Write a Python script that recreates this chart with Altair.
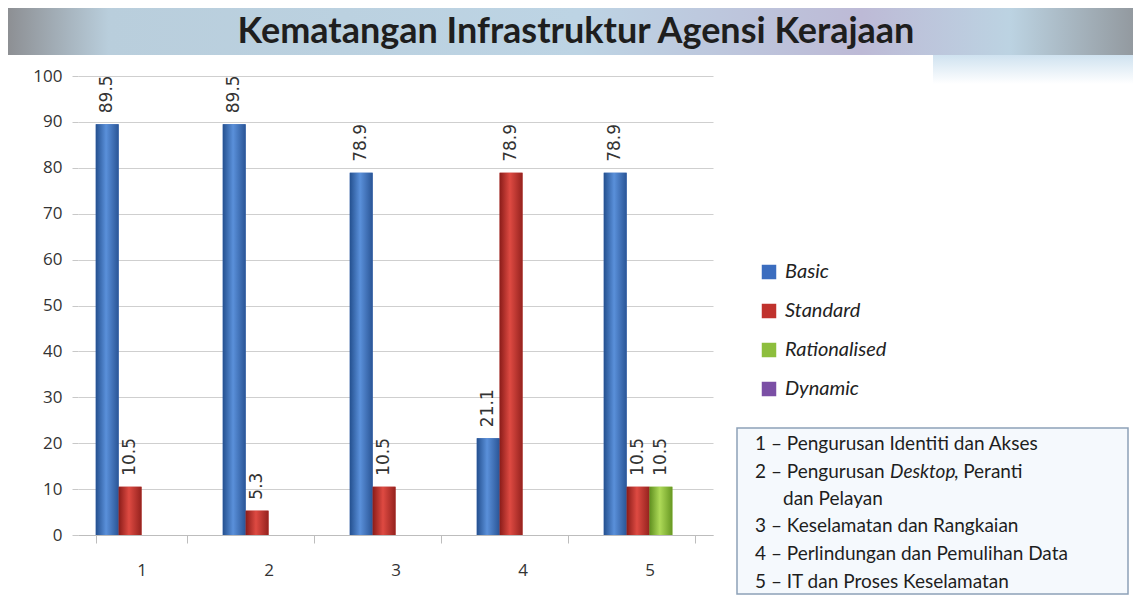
import altair as alt
import pandas as pd

# ---------------- data ----------------
categories = ["1", "2", "3", "4", "5"]
series = ["Basic", "Standard", "Rationalised", "Dynamic"]
basic = [89.5, 89.5, 78.9, 21.1, 78.9]
standard = [10.5, 5.3, 10.5, 78.9, 10.5]
rationalised = [0, 0, 0, 0, 10.5]
dynamic = [0, 0, 0, 0, 0]
colors = ["#3B6DBF", "#C0322D", "#8DBE3D", "#7B4FA5"]

title_text = "Kematangan Infrastruktur Agensi Kerajaan"
box_lines = [
    "1 \u2013 Pengurusan Identiti dan Akses",
    "2 \u2013 Pengurusan ",
    "dan Pelayan",
    "3 \u2013 Keselamatan dan Rangkaian",
    "4 \u2013 Perlindungan dan Pemulihan Data",
    "5 \u2013 IT dan Proses Keselamatan",
]
italic_word = "Desktop"
after_italic = ", Peranti"

rows = []
for s, vals in zip(series, [basic, standard, rationalised, dynamic]):
    for c, v in zip(categories, vals):
        rows.append({"cat": c, "series": s, "value": v})
df = pd.DataFrame(rows)

W, H = 635, 459
FONT = "Lato"

x_enc = alt.X("cat:N", sort=categories,
              scale=alt.Scale(domain=categories, paddingInner=0.28, paddingOuter=0.14),
              axis=alt.Axis(title=None, labelAngle=0, labelFont="Open Sans", labelFontSize=17,
                            labelColor="#333333", labelPadding=19, tickSize=8,
                            tickColor="#BDBDBD", domainColor="#BDBDBD", tickBand="extent",
                            grid=False))
xo_enc = alt.XOffset("series:N", sort=series,
                     scale=alt.Scale(domain=series, paddingInner=0, paddingOuter=0))
y_enc = alt.Y("value:Q", scale=alt.Scale(domain=[0, 100], nice=False),
              axis=alt.Axis(title=None, values=list(range(0, 101, 10)), labelFont="Open Sans",
                            labelFontSize=17, labelColor="#333333", labelPadding=10,
                            tickSize=6, tickColor="#C8C8C8", domain=False,
                            gridColor="#CFCFCF", gridWidth=1))

base = alt.Chart(df)

bars = base.mark_bar().encode(
    x=x_enc, xOffset=xo_enc, y=y_enc,
    color=alt.Color("series:N", sort=series,
                    scale=alt.Scale(domain=series, range=colors),
                    legend=alt.Legend(title=None, orient="none", legendX=681, legendY=186,
                                      symbolType="square", symbolSize=210,
                                      labelFont=FONT, labelFontSize=20, labelFontStyle="italic",
                                      labelColor="#222222", rowPadding=19, labelOffset=6,
                                      symbolStrokeWidth=0)),
)

grads = {
    "Basic": ["#24508F", "#5A90DA", "#2A5596"],
    "Standard": ["#8A1C19", "#DE4A42", "#95221E"],
    "Rationalised": ["#5F8F1F", "#AEDA58", "#679822"],
    "Dynamic": ["#52307A", "#9A70C4", "#56327E"],
}
grad_layers = []
for s in series:
    c0, c1, c2 = grads[s]
    g = alt.Gradient(gradient="linear", x1=0, x2=1, y1=0, y2=0,
                     stops=[alt.GradientStop(color=c0, offset=0),
                            alt.GradientStop(color=c1, offset=0.45),
                            alt.GradientStop(color=c2, offset=1)])
    grad_layers.append(
        base.transform_filter(alt.datum.series == s).mark_bar(fill=g).encode(
            x=alt.X("cat:N", sort=categories), xOffset=alt.XOffset("series:N", sort=series),
            y="value:Q")
    )

labels = base.transform_filter(alt.datum.value > 0).mark_text(
    angle=270, align="left", baseline="middle", dx=11,
    font="DejaVu Sans", fontSize=17, color="#333333"
).encode(x=alt.X("cat:N", sort=categories), xOffset=alt.XOffset("series:N", sort=series),
         y="value:Q", text=alt.Text("value:Q", format=".1f"))

one = pd.DataFrame({"k": [0]})

banner_grad = alt.Gradient(gradient="linear", x1=0, x2=1, y1=0, y2=0, stops=[
    alt.GradientStop(color="#8C8E92", offset=0),
    alt.GradientStop(color="#B9CEDC", offset=0.09),
    alt.GradientStop(color="#BDD4E4", offset=0.5),
    alt.GradientStop(color="#BDBAD6", offset=0.75),
    alt.GradientStop(color="#BCD3E2", offset=0.88),
    alt.GradientStop(color="#8E9398", offset=1),
])
banner = alt.Chart(one).mark_rect(fill=banner_grad).encode(
    x=alt.value(-72), x2=alt.value(1069), y=alt.value(-70), y2=alt.value(-21))

fade_grad = alt.Gradient(gradient="linear", x1=0, x2=0, y1=0, y2=1, stops=[
    alt.GradientStop(color="#CFE2F0", offset=0),
    alt.GradientStop(color="#FFFFFF", offset=1),
])
fade = alt.Chart(one).mark_rect(fill=fade_grad).encode(
    x=alt.value(855), x2=alt.value(1069), y=alt.value(-21), y2=alt.value(8))

title = alt.Chart(one).mark_text(
    text=title_text, font=FONT, fontSize=36, fontWeight="bold", color="#1E1E1E",
    align="center", baseline="middle"
).encode(x=alt.value(498), y=alt.value(-44))

box = alt.Chart(one).mark_rect(fill="#F5F9FD", stroke="#8DA1B8", strokeWidth=1.5).encode(
    x=alt.value(659), x2=alt.value(1050), y=alt.value(352), y2=alt.value(518))

line_x = [677, 677, 705, 677, 677, 677]
line_y = [368, 396, 423, 450, 478, 506]
box_df = pd.DataFrame({"t": box_lines, "x": line_x, "y": line_y})
box_text = alt.Chart(box_df).mark_text(
    font=FONT, fontSize=19, color="#1E1E1E", align="left", baseline="middle"
).encode(x=alt.X("x:Q", scale=None), y=alt.Y("y:Q", scale=None), text="t:N")

ital = alt.Chart(one).mark_text(
    text=italic_word, font=FONT, fontSize=19, fontStyle="italic", color="#1E1E1E",
    align="left", baseline="middle").encode(x=alt.value(812), y=alt.value(396))
after = alt.Chart(one).mark_text(
    text=after_italic, font=FONT, fontSize=19, color="#1E1E1E",
    align="left", baseline="middle").encode(x=alt.value(876), y=alt.value(396))

chart = alt.layer(
    banner, fade, title, bars, *grad_layers, labels, box, box_text, ital, after
).properties(
    width=W, height=H,
    autosize=alt.AutoSizeParams(type="none"),
    padding={"left": 70, "top": 68, "right": 420, "bottom": 60},
    background="white",
).configure_view(stroke=None)

chart.save("out.html", embed_options={"renderer": "svg", "actions": False})
